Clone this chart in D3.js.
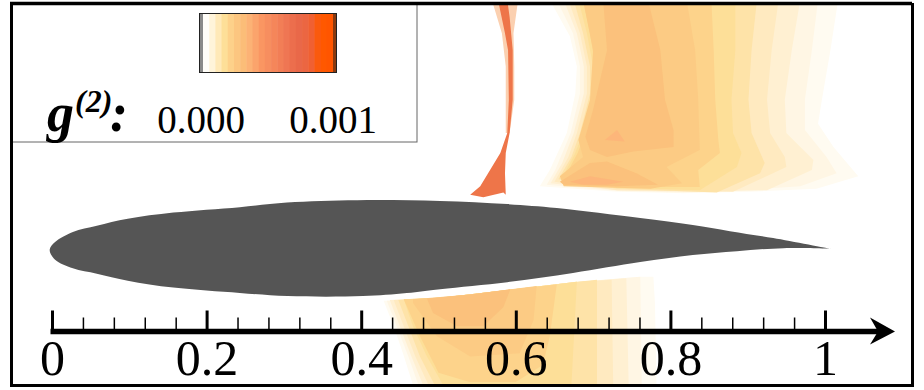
<!DOCTYPE html>
<html>
<head>
<meta charset="utf-8">
<script src="https://cdn.jsdelivr.net/npm/d3@7"></script>
<style>
  html, body { margin: 0; padding: 0; background: #fff; }
  text { font-family: "Liberation Serif", serif; fill: #000; }
</style>
</head>
<body>
<div id="root"></div>
<script>
// all shapes are in chord units (x/c, y/c)

var majorTicks = [0, 0.2, 0.4, 0.6, 0.8, 1];
var minorTicks = [0.04, 0.08, 0.12, 0.16, 0.24, 0.28, 0.32, 0.36, 0.44, 0.48, 0.52, 0.56,
                  0.64, 0.68, 0.72, 0.76, 0.84, 0.88, 0.92, 0.96];
var legendValues = [0, 0.001];

// g2 bands, palest first
var levelColors = ["#fffbf1", "#fff6e4", "#fff0d2", "#ffeac0", "#fee3a8", "#fddf98", "#fdd38b", "#fccb84", "#fbc17b"];
var peakColor = "#fdb67a";
var colorbarColors = ["#fffdf8", "#fff4da", "#ffe9b8", "#fddf98", "#fdd18a", "#fcc680", "#fbbd78", "#fcb274",
                      "#fba46c", "#fa9662", "#f78e5e", "#f5865a", "#f27e56", "#ef7652", "#ec6e4e", "#e9684a",
                      "#eb6642", "#f06030", "#fa5a10", "#ff5800", "#ff5500"];

var airfoil = [[1.007, 0], [0.933, 0.014], [0.877, 0.023], [0.829, 0.031], [0.761, 0.04], [0.653, 0.053],
  [0.589, 0.058], [0.502, 0.062], [0.395, 0.063], [0.304, 0.06], [0.243, 0.054], [0.157, 0.047], [0.098, 0.039],
  [0.058, 0.03], [0.027, 0.022], [0.004, 0.009], [-0.003, -0.001], [0.004, -0.014], [0.027, -0.025], [0.058, -0.032],
  [0.098, -0.041], [0.157, -0.05], [0.243, -0.057], [0.305, -0.061], [0.402, -0.061], [0.459, -0.057], [0.502, -0.052],
  [0.589, -0.043], [0.674, -0.031], [0.761, -0.017], [0.829, -0.008], [0.886, -0.003], [0.946, 0.001], [1.007, 0]];

var wakeLevel1 = [[1.017,.322],[1.007,.257],[.996,.193],[.991,.162],[1.011,.132],[1.043,.094],[.989,.078],[.903,.074],[.817,.072],[.731,.074],[.631,.081],[.644,.102],[.666,.15],[.677,.201],[.679,.236],[.67,.275],[.644,.322]];
var wakeLevel2 = [[.991,.322],[.983,.257],[.974,.193],[.974,.154],[1.002,.119],[1.015,.098],[.968,.081],[.86,.074],[.817,.073],[.731,.075],[.64,.083],[.651,.102],[.671,.15],[.683,.201],[.683,.236],[.674,.279],[.653,.322]];
var wakeLevel3 = [[.968,.322],[.957,.257],[.948,.193],[.95,.15],[.985,.115],[.983,.102],[.925,.076],[.817,.074],[.731,.076],[.645,.085],[.66,.111],[.675,.15],[.688,.201],[.688,.236],[.679,.279],[.662,.322]];
var wakeLevel4 = [[.94,.322],[.931,.257],[.925,.193],[.929,.15],[.948,.119],[.95,.106],[.881,.074],[.731,.076],[.65,.087],[.668,.119],[.679,.15],[.692,.201],[.692,.236],[.683,.279],[.668,.322]];
var wakeLevel5 = [[.912,.322],[.905,.257],[.901,.193],[.905,.15],[.922,.111],[.916,.098],[.86,.073],[.731,.078],[.655,.09],[.672,.119],[.683,.15],[.696,.201],[.696,.236],[.687,.279],[.675,.322]];
var wakeLevel6 = [[.884,.322],[.884,.257],[.879,.193],[.881,.15],[.892,.124],[.886,.106],[.838,.076],[.731,.079],[.66,.092],[.676,.122],[.687,.15],[.7,.201],[.7,.236],[.692,.279],[.681,.322]];
var wakeLevel7 = [[.853,.322],[.856,.257],[.858,.193],[.862,.141],[.864,.124],[.836,.102],[.838,.08],[.731,.08],[.664,.094],[.68,.124],[.69,.15],[.703,.201],[.703,.236],[.696,.279],[.687,.322]];
var wakeLevel8 = [[.821,.322],[.832,.257],[.836,.193],[.838,.128],[.795,.106],[.815,.085],[.774,.078],[.662,.081],[.657,.094],[.687,.119],[.681,.141],[.696,.193],[.7,.257],[.687,.322]];
var wakeLevel9 = [[.771,.322],[.787,.257],[.793,.193],[.804,.154],[.804,.132],[.752,.126],[.718,.119],[.696,.128],[.69,.145],[.7,.18],[.718,.257],[.713,.322]];
var wakeLobe = [[.657,.087],[.696,.111],[.718,.113],[.756,.098],[.784,.083],[.731,.081],[.662,.083]];
var wakePeaks = [[[.67,.087],[.696,.094],[.739,.087],[.718,.083],[.687,.083]], [[.715,.141],[.731,.154],[.741,.139]]];

var footLevel1 = [[.429,-.067],[.502,-.063],[.589,-.053],[.674,-.043],[.761,-.036],[.778,-.036],[.78,-.07],[.782,-.176],[.467,-.176],[.454,-.135],[.442,-.1]];
var footLevel2 = [[.433,-.067],[.502,-.063],[.589,-.053],[.674,-.043],[.761,-.036],[.763,-.176],[.474,-.176],[.461,-.139],[.446,-.1]];
var footLevel3 = [[.437,-.066],[.502,-.063],[.589,-.053],[.674,-.043],[.743,-.038],[.746,-.176],[.48,-.176],[.465,-.139],[.45,-.1]];
var footLevel4 = [[.442,-.066],[.502,-.063],[.589,-.053],[.674,-.043],[.724,-.04],[.726,-.176],[.487,-.176],[.47,-.139],[.455,-.1]];
var footLevel5 = [[.448,-.066],[.502,-.063],[.589,-.053],[.674,-.043],[.705,-.04],[.705,-.176],[.495,-.176],[.476,-.139],[.461,-.1]];
var footLevel6 = [[.455,-.065],[.502,-.063],[.589,-.053],[.674,-.043],[.679,-.042],[.672,-.176],[.506,-.176],[.485,-.139],[.467,-.1]];
var footLevel7 = [[.455,-.065],[.502,-.063],[.589,-.053],[.653,-.046],[.644,-.113],[.635,-.15],[.6,-.172],[.54,-.172],[.5,-.16],[.476,-.113]];
var footLevel8 = [[.467,-.065],[.541,-.059],[.627,-.048],[.623,-.092],[.605,-.135],[.541,-.139],[.498,-.113],[.467,-.07]];
var footLevel9 = [[.485,-.064],[.541,-.059],[.593,-.052],[.584,-.075],[.558,-.1],[.524,-.1],[.493,-.083]];

var shockHalo = [[.569,.322],[.582,.279],[.587,.236],[.587,.15],[.592,.15],[.598,.193],[.598,.236],[.597,.279],[.603,.322]];
var shockCore = [[.577,.322],[.586,.279],[.59,.257],[.591,.193],[.589,.15],[.58,.124],[.554,.081],[.541,.07],[.558,.067],[.584,.073],[.587,.07],[.586,.098],[.587,.124],[.592,.15],[.596,.193],[.596,.257],[.592,.3],[.589,.322]];

var wakeLevels = [wakeLevel1, wakeLevel2, wakeLevel3, wakeLevel4, wakeLevel5, wakeLevel6, wakeLevel7, wakeLevel8, wakeLevel9];
var footLevels = [footLevel1, footLevel2, footLevel3, footLevel4, footLevel5, footLevel6, footLevel7, footLevel8, footLevel9];

function drawChart() {
  var width = 924, height = 390;

  var x = d3.scaleLinear().domain([0, 1]).range([52, 825]);
  var y = d3.scaleLinear().domain([-0.176, 0.322]).range([385, 0]);

  var svg = d3.select("#root").append("svg")
      .attr("width", width)
      .attr("height", height)
      .style("display", "block");

  var defs = svg.append("defs");
  defs.append("clipPath").attr("id", "plot-clip")
    .append("rect").attr("x", 12).attr("y", 4).attr("width", 900).attr("height", 381);
  defs.append("filter").attr("id", "soft")
    .append("feGaussianBlur").attr("stdDeviation", 0.7);

  var poly = d3.line().x(function(d) { return x(d[0]); }).y(function(d) { return y(d[1]); });

  // contour bands
  var field = svg.append("g").attr("clip-path", "url(#plot-clip)")
    .append("g").attr("filter", "url(#soft)");

  function addBands(levels) {
    field.append("g").selectAll("path").data(levels).enter().append("path")
      .attr("d", function(d) { return poly(d) + "Z"; })
      .attr("fill", function(d, i) { return levelColors[i]; });
  }
  addBands(wakeLevels);
  addBands(footLevels);

  field.append("path").attr("d", poly(wakeLobe) + "Z").attr("fill", levelColors[8]);
  field.selectAll(".peak").data(wakePeaks).enter().append("path")
    .attr("class", "peak")
    .attr("d", function(d) { return poly(d) + "Z"; })
    .attr("fill", peakColor);
  field.append("path").attr("d", poly(shockHalo) + "Z").attr("fill", "#fbd0b0");
  field.append("path").attr("d", poly(shockCore) + "Z").attr("fill", "#ee7448");

  // the airfoil
  svg.append("path")
    .attr("d", d3.line().x(function(d) { return x(d[0]); }).y(function(d) { return y(d[1]); })
      .curve(d3.curveCatmullRom)(airfoil) + "Z")
    .attr("fill", "#555555");

  // legend box sits on top of the field
  svg.append("rect").attr("x", 11).attr("y", 4).attr("width", 406).attr("height", 138)
    .attr("fill", "#fff").attr("stroke", "#666").attr("stroke-width", 1);

  var legend = d3.scaleLinear().domain(legendValues).range([201, 333]);
  var bar = d3.scaleBand().domain(d3.range(colorbarColors.length)).range([legend(0) + 2, legend(0.001)]);

  svg.append("g").attr("filter", "url(#soft)").selectAll("rect").data(colorbarColors).enter().append("rect")
    .attr("x", function(d, i) { return bar(i); })
    .attr("y", 14)
    .attr("width", bar.bandwidth() + 0.5)
    .attr("height", 58)
    .attr("fill", function(d) { return d; });
  svg.append("rect").attr("x", 199.5).attr("y", 14).attr("width", 3.5).attr("height", 58).attr("fill", "#8a8a8a");
  svg.append("rect").attr("x", 333).attr("y", 14).attr("width", 3.5).attr("height", 58).attr("fill", "#8a3a10");
  svg.append("rect").attr("x", 199.5).attr("y", 13.5).attr("width", 137).attr("height", 59)
    .attr("fill", "none").attr("stroke", "#222").attr("stroke-width", 1);

  svg.append("g").selectAll("text").data(legendValues).enter().append("text")
    .attr("x", function(d) { return legend(d); })
    .attr("y", 133)
    .attr("text-anchor", "middle")
    .style("font-size", "39px")
    .text(d3.format(".3f"));

  var gLabel = svg.append("g").style("font-weight", "bold").style("font-style", "italic");
  gLabel.append("text").attr("x", 47).attr("y", 131).style("font-size", "54px").text("g");
  gLabel.append("text").attr("x", 75).attr("y", 112).style("font-size", "32px").text("(2)");
  gLabel.append("text").attr("x", 110).attr("y", 131).style("font-size", "54px").text(":");

  // chord axis: ticks point up, labels below
  var axisY = 331.5;
  var labels = svg.append("g")
    .attr("transform", "translate(0," + axisY + ")")
    .call(d3.axisBottom(x).tickValues(majorTicks).tickSize(-21).tickPadding(43.5)
      .tickFormat(function(d) { return d3.format("~g")(d); }));
  labels.select(".domain").remove();
  labels.selectAll("line").attr("stroke", "#000").attr("stroke-width", 3);
  labels.selectAll("text").attr("dy", 0).style("font-size", "50px").style("font-family", "Liberation Serif, serif");

  var minors = svg.append("g")
    .attr("transform", "translate(0," + axisY + ")")
    .call(d3.axisBottom(x).tickValues(minorTicks).tickSize(-14).tickFormat(""));
  minors.select(".domain").remove();
  minors.selectAll("line").attr("stroke", "#000").attr("stroke-width", 1.5);

  svg.append("line").attr("x1", x(0) - 1.5).attr("x2", 880).attr("y1", axisY).attr("y2", axisY)
    .attr("stroke", "#000").attr("stroke-width", 5.5);
  svg.append("path")
    .attr("d", "M895," + axisY + "L870," + (axisY - 14) + "L878," + axisY + "L870," + (axisY + 13) + "Z")
    .attr("fill", "#000");

  // frame
  svg.append("line").attr("x1", 10).attr("x2", 912).attr("y1", 3.5).attr("y2", 3.5).attr("stroke", "#000").attr("stroke-width", 3.5);
  svg.append("line").attr("x1", 11.5).attr("x2", 11.5).attr("y1", 2).attr("y2", 386).attr("stroke", "#000").attr("stroke-width", 3);
  svg.append("line").attr("x1", 10).attr("x2", 914).attr("y1", 385.5).attr("y2", 385.5).attr("stroke", "#000").attr("stroke-width", 3);
  svg.append("line").attr("x1", 912.5).attr("x2", 912.5).attr("y1", 3).attr("y2", 387).attr("stroke", "#000").attr("stroke-width", 3);
}

drawChart();
</script>
</body>
</html>
